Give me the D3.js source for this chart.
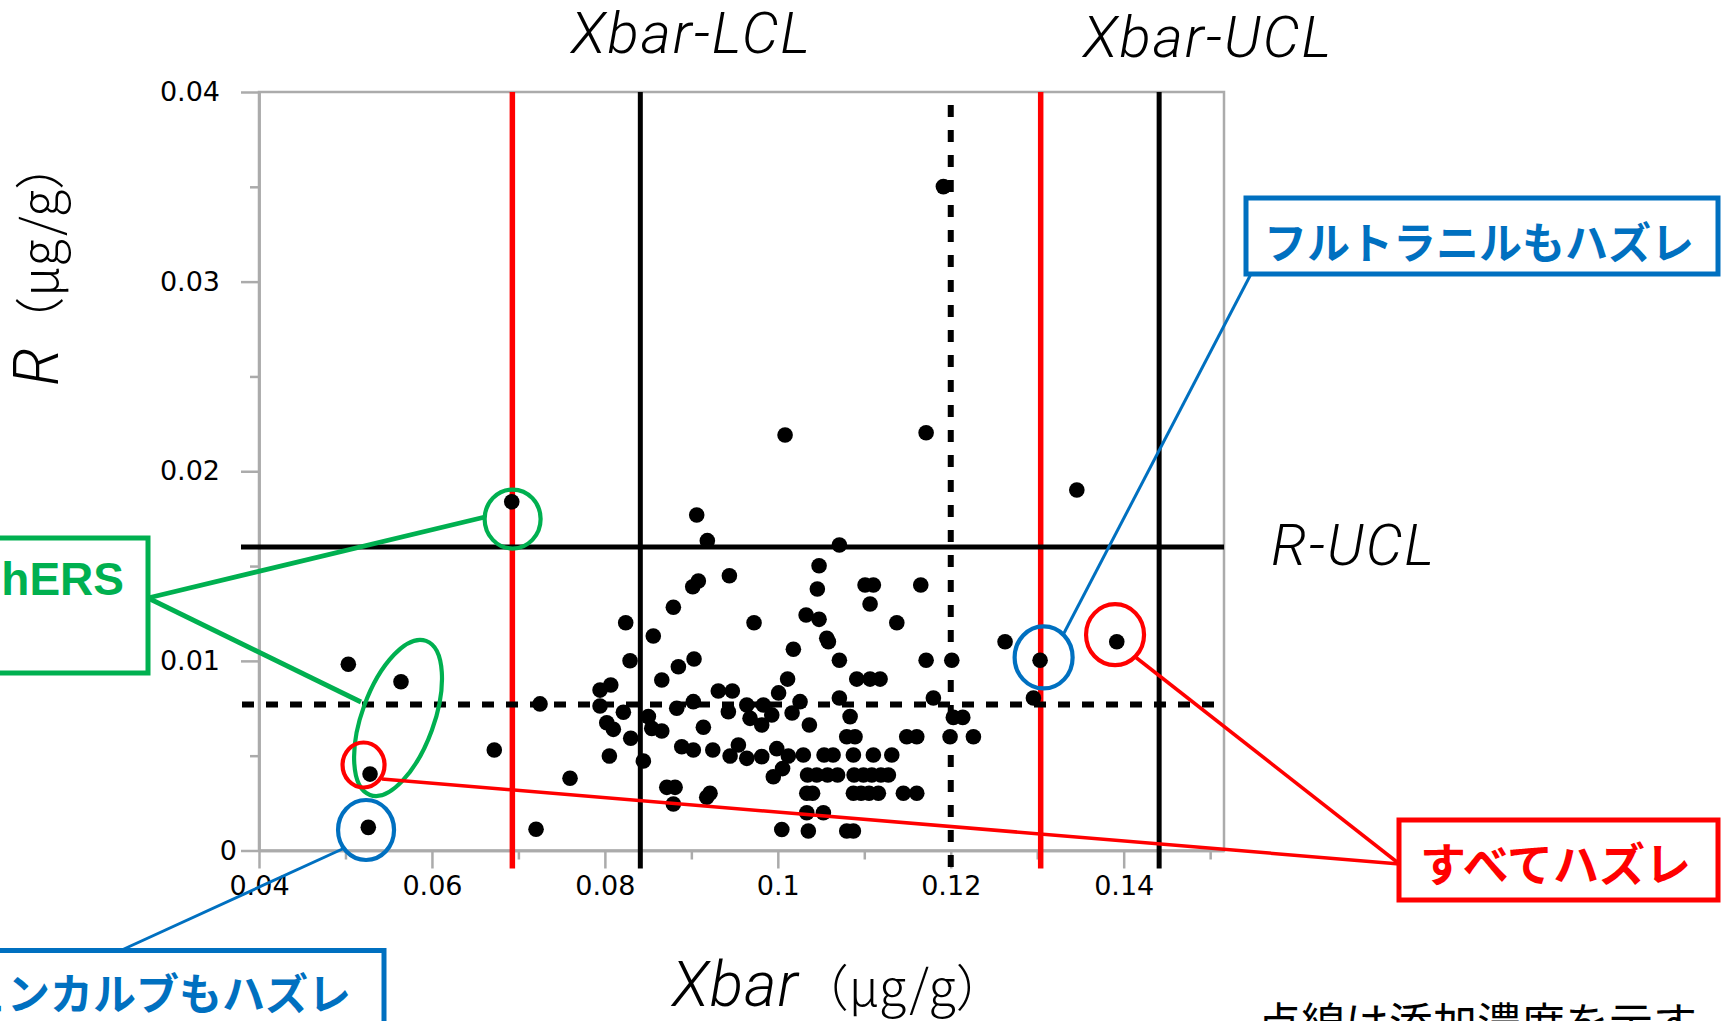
<!DOCTYPE html>
<html>
<head>
<meta charset="utf-8">
<script src="https://cdn.jsdelivr.net/npm/d3@7"></script>
<style>
  body { margin: 0; background: #fff; }
  svg { display: block; }
  .tick text { font-family: "DejaVu Sans", sans-serif; font-size: 27px; fill: #000; }
  .limit-label { font-family: Roboto, "Liberation Sans", sans-serif; font-style: italic; font-weight: 300; font-size: 58px; letter-spacing: 2px; fill: #000; }
  .title { fill: #000; }
  .title .it { font-family: Roboto, "Liberation Sans", sans-serif; font-style: italic; font-weight: 300; font-size: 62px; letter-spacing: 1px; }
  .title .unit { font-family: "Noto Sans CJK JP", sans-serif; font-weight: 300; font-size: 50px; }
  .note { font-family: "Noto Sans CJK JP", sans-serif; font-weight: 700; font-size: 43px; }
</style>
</head>
<body>
<svg id="chart" width="1721" height="1021"></svg>
<script>
// Mean (Xbar) and range (R) of each result, μg/g
const xbarValues = [
  0.05033, 0.05642, 0.05284, 0.05264, 0.06721, 0.06923, 0.07204, 0.07250, 0.07597, 0.07944,
  0.07944, 0.08022, 0.08052, 0.08068, 0.08098, 0.08214, 0.08241, 0.08291, 0.08299, 0.08445,
  0.08503, 0.08542, 0.08560, 0.08658, 0.08658, 0.08716, 0.08792, 0.08792, 0.08812, 0.08831,
  0.08850, 0.08889, 0.09016, 0.09023, 0.09023, 0.09031, 0.09062, 0.09081, 0.09139, 0.09178,
  0.09185, 0.09216, 0.09248, 0.09312, 0.09428, 0.09440, 0.09448, 0.09474, 0.09544, 0.09641,
  0.09641, 0.09679, 0.09725, 0.09814, 0.09814, 0.09833, 0.09930, 0.09948, 0.09988, 0.10009,
  0.10046, 0.10055, 0.10084, 0.10113, 0.10122, 0.10165, 0.10180, 0.10257, 0.10295, 0.10327,
  0.10335, 0.10335, 0.10344, 0.10353, 0.10365, 0.10402, 0.10450, 0.10457, 0.10477, 0.10477,
  0.10527, 0.10535, 0.10566, 0.10575, 0.10585, 0.10639, 0.10691, 0.10712, 0.10712, 0.10712,
  0.10797, 0.10797, 0.10836, 0.10874, 0.10874, 0.10874, 0.10882, 0.10893, 0.10913, 0.10963,
  0.10990, 0.11009, 0.11055, 0.11067, 0.11067, 0.11087, 0.11105, 0.11105, 0.11163, 0.11183,
  0.11192, 0.11279, 0.11318, 0.11376, 0.11452, 0.11491, 0.11607, 0.11607, 0.11653, 0.11715,
  0.11715, 0.11799, 0.11915, 0.11992, 0.12012, 0.12030, 0.12139, 0.12262, 0.12628, 0.12956,
  0.13033, 0.13458, 0.13920
];
const rValues = [
  0.00982, 0.00890, 0.00403, 0.00122, 0.00530, 0.01839, 0.00112, 0.00773, 0.00381, 0.00846,
  0.00762, 0.00674, 0.00498, 0.00873, 0.00639, 0.00729, 0.01201, 0.01001, 0.00592, 0.00472,
  0.00706, 0.00644, 0.01131, 0.00899, 0.00630, 0.00333, 0.01283, 0.00245, 0.00333, 0.00750,
  0.00969, 0.00547, 0.01391, 0.00785, 0.00530, 0.01010, 0.01769, 0.01421, 0.00650, 0.00281,
  0.01634, 0.00302, 0.00530, 0.00841, 0.00732, 0.01449, 0.00498, 0.00841, 0.00556, 0.00767,
  0.00486, 0.00697, 0.01201, 0.00662, 0.00495, 0.00767, 0.00715, 0.00389, 0.00537, 0.00831,
  0.00111, 0.00432, 0.02191, 0.00904, 0.00498, 0.00725, 0.01061, 0.00785, 0.00504, 0.01242,
  0.00302, 0.00199, 0.00398, 0.00103, 0.00662, 0.00302, 0.00398, 0.01379, 0.01502, 0.01219,
  0.00199, 0.00504, 0.01119, 0.00398, 0.01101, 0.00504, 0.00398, 0.01611, 0.01003, 0.00804,
  0.00600, 0.00103, 0.00706, 0.00504, 0.00302, 0.00103, 0.00398, 0.00600, 0.00904, 0.00302,
  0.00398, 0.01400, 0.00302, 0.01300, 0.00904, 0.00398, 0.01400, 0.00504, 0.00302, 0.00904,
  0.00398, 0.00398, 0.00504, 0.01201, 0.00302, 0.00600, 0.00600, 0.00302, 0.01400, 0.02203,
  0.01003, 0.00804, 0.03501, 0.00600, 0.01003, 0.00702, 0.00702, 0.00600, 0.01101, 0.00804,
  0.01003, 0.01901, 0.01101
];

// Control limits
const xbarRedLimits = [0.0693, 0.1304];
const xbarBlackLimits = [0.0841, 0.1441];
const xbarSpikeLevel = [0.1200];
const rUclLimits = [0.0160];
const rCenterLines = [0.0077];

// Axis ticks
const xTicks = [0.04, 0.06, 0.08, 0.10, 0.12, 0.14];
const xMinorTicks = [0.05, 0.07, 0.09, 0.11, 0.13, 0.15];
const yTicks = [0, 0.01, 0.02, 0.03, 0.04];
const yMinorTicks = [0.005, 0.015, 0.025, 0.035];

const points = xbarValues.map((v, i) => ({ xbar: v, r: rValues[i] }));

const svg = d3.select('#chart');
const plot = { left: 259, right: 1224, top: 92, bottom: 850.5 };
const axisGray = '#ababab';
const GREEN = '#00b050', BLUE = '#0070c0', RED = '#ff0000';

const x = d3.scaleLinear().domain([0.04, 0.1516]).range([plot.left, plot.right]);
const y = d3.scaleLinear().domain([0, 0.04]).range([plot.bottom, plot.top]);
const fmt = d => String(+d.toFixed(3));

// plot border
svg.append('rect')
  .attr('x', plot.left).attr('y', plot.top)
  .attr('width', plot.right - plot.left).attr('height', plot.bottom - plot.top)
  .attr('fill', 'none').attr('stroke', axisGray).attr('stroke-width', 2.5);

function styleAxis(g) {
  g.select('.domain').attr('stroke', axisGray).attr('stroke-width', 2.5);
  g.selectAll('.tick line').attr('stroke', axisGray).attr('stroke-width', 2.5);
}

// minor ticks
svg.append('g').attr('transform', `translate(0,${plot.bottom})`)
  .call(d3.axisBottom(x).tickValues(xMinorTicks).tickSize(9).tickSizeOuter(0).tickFormat(''))
  .call(styleAxis);
svg.append('g').attr('transform', `translate(${plot.left},0)`)
  .call(d3.axisLeft(y).tickValues(yMinorTicks).tickSize(9).tickSizeOuter(0).tickFormat(''))
  .call(styleAxis);

// major ticks with labels
svg.append('g').attr('transform', `translate(0,${plot.bottom})`)
  .call(d3.axisBottom(x).tickValues(xTicks).tickSize(18).tickSizeOuter(0).tickPadding(7).tickFormat(fmt))
  .call(styleAxis);
const gy = svg.append('g').attr('transform', `translate(${plot.left},0)`)
  .call(d3.axisLeft(y).tickValues(yTicks).tickSize(18).tickSizeOuter(0).tickPadding(21).tickFormat(fmt))
  .call(styleAxis);
gy.selectAll('.tick text').filter(d => d === 0).attr('x', -22);

// control-limit lines
const lines = svg.append('g');
const vBottom = plot.bottom + 18;
lines.selectAll('.vred').data(xbarRedLimits).join('line')
  .attr('x1', d => x(d)).attr('x2', d => x(d)).attr('y1', plot.top).attr('y2', vBottom)
  .attr('stroke', RED).attr('stroke-width', 5.5);
lines.selectAll('.vblack').data(xbarBlackLimits).join('line')
  .attr('x1', d => x(d)).attr('x2', d => x(d)).attr('y1', plot.top).attr('y2', vBottom)
  .attr('stroke', '#000').attr('stroke-width', 5);
lines.selectAll('.vdash').data(xbarSpikeLevel).join('line')
  .attr('x1', d => x(d)).attr('x2', d => x(d)).attr('y1', plot.top + 13).attr('y2', vBottom)
  .attr('stroke', '#000').attr('stroke-width', 6).attr('stroke-dasharray', '12,13');
lines.selectAll('.hsolid').data(rUclLimits).join('line')
  .attr('x1', plot.left - 18).attr('x2', plot.right).attr('y1', d => y(d)).attr('y2', d => y(d))
  .attr('stroke', '#000').attr('stroke-width', 5);
lines.selectAll('.hdash').data(rCenterLines).join('line')
  .attr('x1', plot.left - 17).attr('x2', plot.right).attr('y1', d => y(d)).attr('y2', d => y(d))
  .attr('stroke', '#000').attr('stroke-width', 6).attr('stroke-dasharray', '12,12');

// data points
svg.append('g').selectAll('circle').data(points).join('circle')
  .attr('cx', d => x(d.xbar)).attr('cy', d => y(d.r)).attr('r', 7.8).attr('fill', '#000');

// limit labels
svg.append('text').attr('class', 'limit-label').attr('x', 571).attr('y', 53).text('Xbar-LCL');
svg.append('text').attr('class', 'limit-label').attr('x', 1083).attr('y', 57).text('Xbar-UCL');
svg.append('text').attr('class', 'limit-label').attr('x', 1271).attr('y', 565).text('R-UCL');

// axis titles
const xt = svg.append('text').attr('class', 'title').attr('x', 672).attr('y', 1006);
xt.append('tspan').attr('class', 'it').text('Xbar');
xt.append('tspan').attr('class', 'unit').text('（μg/g）');
const yt = svg.append('text').attr('class', 'title').attr('transform', 'translate(58,386) rotate(-90)');
yt.append('tspan').attr('class', 'it').text('R');
yt.append('tspan').attr('class', 'unit').text('（μg/g）');

// annotations
const ann = svg.append('g').attr('fill', 'none');
function ring(cx, cr, rx, ry, color, width, rot) {
  ann.append('ellipse')
    .attr('transform', `translate(${x(cx)},${y(cr)}) rotate(${rot || 0})`)
    .attr('rx', rx).attr('ry', ry)
    .attr('stroke', color).attr('stroke-width', width);
}
function leader(x1, y1, x2, y2, color, width) {
  ann.append('line').attr('x1', x1).attr('y1', y1).attr('x2', x2).attr('y2', y2)
    .attr('stroke', color).attr('stroke-width', width);
}
function box(x0, y0, x1, y1, color) {
  ann.append('rect').attr('x', x0).attr('y', y0).attr('width', x1 - x0).attr('height', y1 - y0)
    .attr('fill', '#fff').attr('stroke', color).attr('stroke-width', 5);
}

// green: hERS
leader(148, 598, 485, 517, GREEN, 4.8);
leader(148, 598, 361, 702, GREEN, 4.8);
ring(0.06933, 0.01748, 28, 29.5, GREEN, 4.2);
ring(0.05608, 0.00699, 36, 82, GREEN, 4.2, 20);
box(-10, 538, 148, 673, GREEN);
svg.append('text').attr('x', 124).attr('y', 595).attr('text-anchor', 'end')
  .style('font-family', '"Liberation Sans", Arial, sans-serif').style('font-weight', 700)
  .style('font-size', '46px').attr('fill', GREEN).text('hERS');

// blue: bottom-left
leader(343.5, 848.5, 120.7, 950.5, BLUE, 3);
ring(0.05238, 0.00108, 28, 30, BLUE, 4.2);
box(-10, 950.5, 384, 1040, BLUE);
svg.append('text').attr('class', 'note').attr('x', 351).attr('y', 1010).attr('text-anchor', 'end')
  .attr('fill', BLUE).text('ジエトフェンカルブもハズレ');

// blue: upper right
leader(1063, 635, 1251, 274, BLUE, 3);
ring(0.13074, 0.01018, 29, 31, BLUE, 4.2);
box(1246, 198, 1718, 274, BLUE);
svg.append('text').attr('class', 'note').attr('x', 1264).attr('y', 259)
  .attr('fill', BLUE).text('フルトラニルもハズレ');

// red: all missed
leader(382, 779, 1399.5, 864, RED, 3.5);
leader(1136, 657.5, 1399.5, 864, RED, 3.5);
ring(0.05209, 0.00451, 21, 22.5, RED, 4.2);
ring(0.13900, 0.01138, 29, 30.5, RED, 4.2);
box(1399, 820, 1718, 900, RED);
svg.append('text').attr('class', 'note').attr('x', 1420).attr('y', 881)
  .attr('fill', RED).style('font-size', '46px').text('すべてハズレ');

// footnote
svg.append('text').attr('x', 1257).attr('y', 1040)
  .style('font-family', '"Noto Sans CJK JP", sans-serif').style('font-size', '44px')
  .attr('fill', '#000').text('点線は添加濃度を示す');
</script>
</body>
</html>
